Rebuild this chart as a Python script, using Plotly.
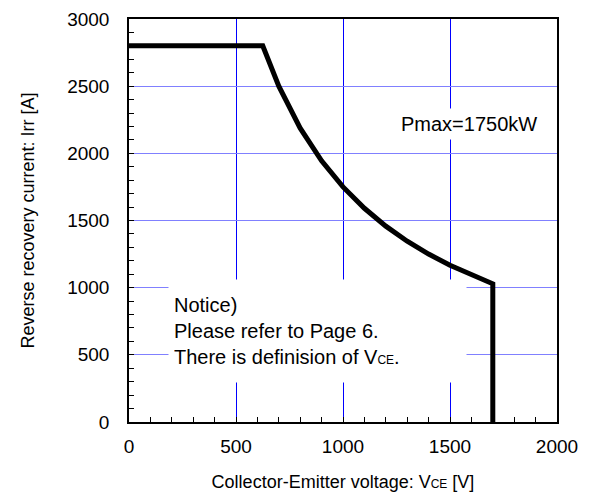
import plotly.graph_objects as go

# Data (V_CE in V, Irr in A)
vce = [0, 625, 700, 800, 900, 1000, 1100, 1200, 1300, 1400, 1500, 1600, 1700, 1700]
irr = [2800, 2800, 2500, 2187, 1944, 1750, 1591, 1458, 1346, 1250, 1167, 1094, 1029, 0]

x_ticks = [0, 500, 1000, 1500, 2000]
y_ticks = [0, 500, 1000, 1500, 2000, 2500, 3000]

FONT = "Liberation Sans, Arial, sans-serif"

fig = go.Figure()
fig.add_trace(go.Scatter(x=vce, y=irr, mode="lines",
                         line=dict(color="black", width=5), showlegend=False,
                         hoverinfo="skip"))

axis_common = dict(
    showline=True, linecolor="black", linewidth=1.5, mirror=True,
    showgrid=True, gridwidth=1,
    ticks="inside", ticklen=5, tickcolor="black", tickwidth=1,
    zeroline=False, automargin=False,
    tickfont=dict(family=FONT, size=19, color="black"),
    minor=dict(ticks="inside", dtick=100, ticklen=5, tickcolor="black", showgrid=False),
)

fig.update_xaxes(range=[0, 2000], tickvals=x_ticks, ticktext=[str(v) for v in x_ticks],
                 gridcolor="#0000ff",
                 title=dict(text='Collector-Emitter voltage: V<span style="font-size:12px">CE</span> [V]',
                            font=dict(family=FONT, size=18, color="black"), standoff=20),
                 ticklabelstandoff=6,
                 **axis_common)
fig.update_yaxes(range=[0, 3000], tickvals=y_ticks, ticktext=[str(v) for v in y_ticks],
                 gridcolor="#8080ff",
                 title=dict(text="Reverse recovery current: Irr [A]",
                            font=dict(family=FONT, size=18, color="black"), standoff=28),
                 ticklabelstandoff=14,
                 **axis_common)

fig.add_annotation(x=1587, y=2216, xref="x", yref="y", text="Pmax=1750kW",
                   showarrow=False, font=dict(family=FONT, size=20, color="black"),
                   bgcolor="white", borderpad=4)

fig.add_annotation(x=182, y=677, xref="x", yref="y", xanchor="left", yanchor="middle",
                   text='Notice)<br>Please refer to Page 6.<br>There is definision of V<span style="font-size:12px">CE</span>.',
                   showarrow=False, align="left", width=287, height=92, borderpad=5,
                   font=dict(family=FONT, size=20, color="black"), bgcolor="white")

fig.update_layout(width=596, height=497,
                  margin=dict(l=121, r=47, t=11, b=83),
                  plot_bgcolor="white", paper_bgcolor="white")

fig.write_html("out.html")
